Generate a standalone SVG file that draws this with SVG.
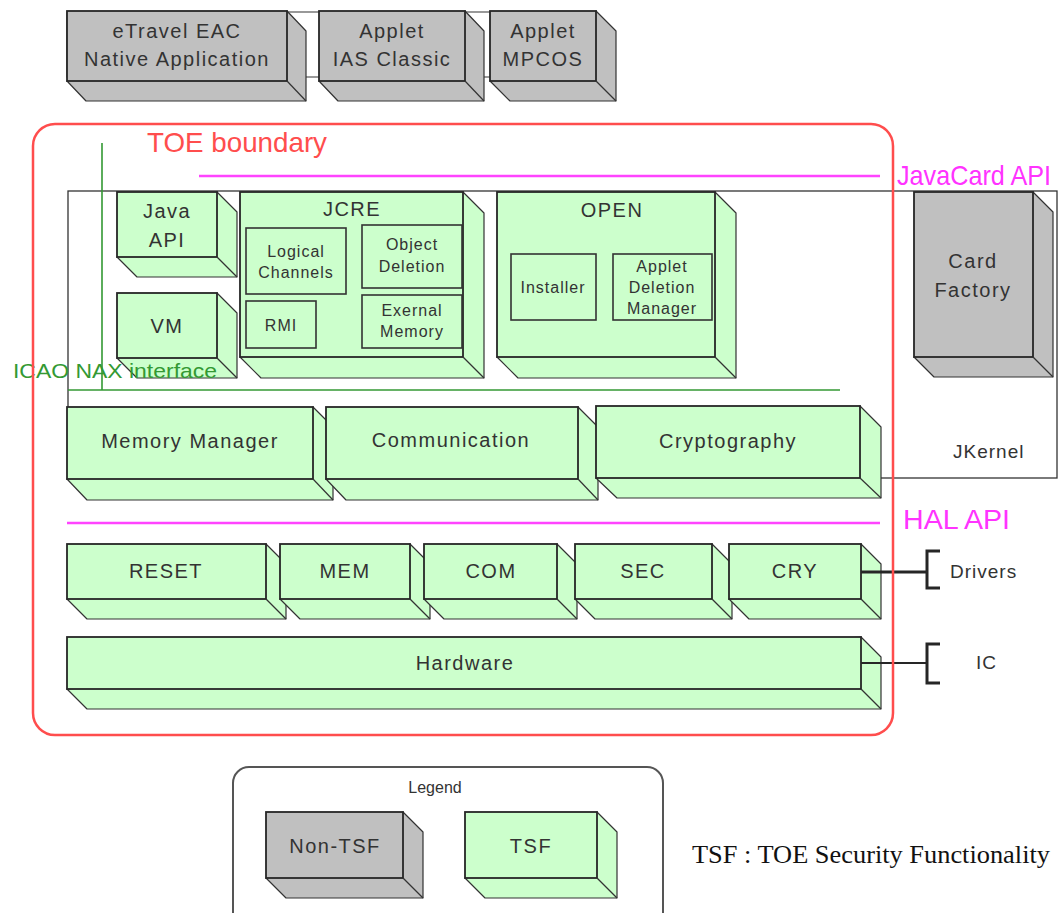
<svg xmlns="http://www.w3.org/2000/svg" width="1061" height="913" viewBox="0 0 1061 913">
  <style>
    .front { stroke: #262626; stroke-width: 1.8; }
    .ext { stroke: #333; stroke-width: 1.2; stroke-linejoin: round; }
    .edge { stroke: #333; stroke-width: 1.2; }
    .tsf { fill: #ccffcc; }
    .non { fill: #c0c0c0; }
    .inner { fill: #ccffcc; stroke: #333; stroke-width: 1.6; }
    .lbl { font-family: "Liberation Sans", Arial, sans-serif; font-size: 20px; letter-spacing: 1.5px; fill: #333; text-anchor: middle; }
    .sm { font-family: "Liberation Sans", Arial, sans-serif; font-size: 16px; letter-spacing: 1px; fill: #333; text-anchor: middle; }
    .api { font-family: "Liberation Sans", Arial, sans-serif; font-size: 28px; fill: #ff33ff; }
    .apiline { stroke: #ff44ff; stroke-width: 2.5; }
  </style>

  <rect width="1061" height="913" fill="#ffffff"/>

  <!-- applications row frame -->
  <rect x="67" y="12" width="529" height="65" fill="none" stroke="#555" stroke-width="1.2"/>

  <!-- application boxes -->
  <g id="etravel">
    <polygon class="non ext" points="287,11 306,31 306,101 86,101 67,81"/>
    <rect class="non front" x="67" y="11" width="220" height="70"/>
    <line class="edge" x1="287" y1="81" x2="306" y2="101"/>
    <text class="lbl" x="177" y="38">eTravel EAC</text>
    <text class="lbl" x="177" y="66">Native Application</text>
  </g>
  <g id="ias-classic">
    <polygon class="non ext" points="465,11 484,31 484,101 338,101 319,81"/>
    <rect class="non front" x="319" y="11" width="146" height="70"/>
    <line class="edge" x1="465" y1="81" x2="484" y2="101"/>
    <text class="lbl" x="392" y="38">Applet</text>
    <text class="lbl" x="392" y="66">IAS Classic</text>
  </g>
  <g id="mpcos">
    <polygon class="non ext" points="596,11 616,31 616,101 510,101 490,81"/>
    <rect class="non front" x="490" y="11" width="106" height="70"/>
    <line class="edge" x1="596" y1="81" x2="616" y2="101"/>
    <text class="lbl" x="543" y="38">Applet</text>
    <text class="lbl" x="543" y="66">MPCOS</text>
  </g>

  <!-- JKernel frame -->
  <g id="jkernel">
    <rect x="68" y="191" width="989" height="287" fill="none" stroke="#333" stroke-width="1.3"/>
    <text x="953" y="458" font-family="Liberation Sans, Arial, sans-serif" font-size="19" letter-spacing="1" fill="#333">JKernel</text>
  </g>

  <!-- interfaces -->
  <g id="interfaces">
    <line class="apiline" x1="199" y1="176" x2="880" y2="176"/>
    <text class="api" x="897" y="185" font-size="26" textLength="154" lengthAdjust="spacingAndGlyphs">JavaCard API</text>
    <line class="apiline" x1="67" y1="523" x2="880" y2="523"/>
    <text class="api" x="903" y="529" textLength="107" lengthAdjust="spacingAndGlyphs">HAL API</text>
    <line x1="102" y1="143" x2="102" y2="390" stroke="#339933" stroke-width="1.6"/>
    <line x1="68" y1="390" x2="840" y2="390" stroke="#339933" stroke-width="1.6"/>
  </g>

  <!-- Java API -->
  <g id="java-api">
    <polygon class="tsf ext" points="217,192 237,212 237,277 137,277 117,257"/>
    <rect class="tsf front" x="117" y="192" width="100" height="65"/>
    <line class="edge" x1="217" y1="257" x2="237" y2="277"/>
    <text class="lbl" x="167" y="218">Java</text>
    <text class="lbl" x="167" y="247">API</text>
  </g>

  <!-- VM -->
  <g id="vm">
    <polygon class="tsf ext" points="217,293 237,313 237,378 137,378 117,358"/>
    <rect class="tsf front" x="117" y="293" width="100" height="65"/>
    <line class="edge" x1="217" y1="358" x2="237" y2="378"/>
    <text class="lbl" x="167" y="333">VM</text>
  </g>

  <!-- ICAO interface label, drawn over VM -->
  <text id="icao-label" x="13" y="378" font-family="Liberation Sans, Arial, sans-serif" font-size="21" fill="#339933" textLength="204" lengthAdjust="spacingAndGlyphs">ICAO NAX interface</text>

  <!-- JCRE -->
  <g id="jcre">
    <polygon class="tsf ext" points="463,192 484,213 484,378 261,378 240,357"/>
    <rect class="tsf front" x="240" y="192" width="223" height="165"/>
    <line class="edge" x1="463" y1="357" x2="484" y2="378"/>
    <text class="lbl" x="352" y="216">JCRE</text>
    <g id="logical-channels">
      <rect class="inner" x="246" y="228" width="100" height="66"/>
      <text class="sm" x="296" y="257">Logical</text>
      <text class="sm" x="296" y="278">Channels</text>
    </g>
    <g id="object-deletion">
      <rect class="inner" x="362" y="225" width="100" height="63" stroke-width="2.4"/>
      <text class="sm" x="412" y="250">Object</text>
      <text class="sm" x="412" y="272">Deletion</text>
    </g>
    <g id="rmi">
      <rect class="inner" x="246" y="301" width="70" height="47" stroke-width="2.2"/>
      <text class="sm" x="281" y="331">RMI</text>
    </g>
    <g id="external-memory">
      <rect class="inner" x="362" y="295" width="100" height="53" stroke-width="2.4"/>
      <text class="sm" x="412" y="316">Exernal</text>
      <text class="sm" x="412" y="337">Memory</text>
    </g>
  </g>

  <!-- OPEN -->
  <g id="open">
    <polygon class="tsf ext" points="715,192 736,213 736,378 518,378 497,357"/>
    <rect class="tsf front" x="497" y="192" width="218" height="165"/>
    <line class="edge" x1="715" y1="357" x2="736" y2="378"/>
    <text class="lbl" x="612" y="217">OPEN</text>
    <g id="installer">
      <rect class="inner" x="511" y="254" width="85" height="66" stroke-width="2"/>
      <text class="sm" x="553" y="293">Installer</text>
    </g>
    <g id="applet-deletion-manager">
      <rect class="inner" x="613" y="254" width="99" height="66" stroke-width="2"/>
      <text class="sm" x="662" y="272">Applet</text>
      <text class="sm" x="662" y="293">Deletion</text>
      <text class="sm" x="662" y="314">Manager</text>
    </g>
  </g>

  <!-- Card Factory -->
  <g id="card-factory">
    <polygon class="non ext" points="1033,192 1053,212 1053,377 934,377 914,357"/>
    <rect class="non front" x="914" y="192" width="119" height="165"/>
    <line class="edge" x1="1033" y1="357" x2="1053" y2="377"/>
    <text class="lbl" x="973" y="268">Card</text>
    <text class="lbl" x="973" y="297">Factory</text>
  </g>

  <!-- kernel services -->
  <g id="memory-manager">
    <polygon class="tsf ext" points="313,407 333,427 333,500 87,500 67,479"/>
    <rect class="tsf front" x="67" y="407" width="246" height="72"/>
    <line class="edge" x1="313" y1="479" x2="333" y2="500"/>
    <text class="lbl" x="190" y="448">Memory Manager</text>
  </g>
  <g id="communication">
    <polygon class="tsf ext" points="578,407 598,427 598,500 346,500 326,479"/>
    <rect class="tsf front" x="326" y="407" width="252" height="72"/>
    <line class="edge" x1="578" y1="479" x2="598" y2="500"/>
    <text class="lbl" x="451" y="447">Communication</text>
  </g>
  <g id="cryptography">
    <polygon class="tsf ext" points="860,406 881,427 881,498 617,498 596,478"/>
    <rect class="tsf front" x="596" y="406" width="264" height="72"/>
    <line class="edge" x1="860" y1="478" x2="881" y2="498"/>
    <text class="lbl" x="728" y="448">Cryptography</text>
  </g>

  <!-- drivers -->
  <g id="reset">
    <polygon class="tsf ext" points="266,544 286,564 286,619 87,619 67,599"/>
    <rect class="tsf front" x="67" y="544" width="199" height="55"/>
    <line class="edge" x1="266" y1="599" x2="286" y2="619"/>
    <text class="lbl" x="166" y="578">RESET</text>
  </g>
  <g id="mem">
    <polygon class="tsf ext" points="410,544 430,564 430,619 300,619 280,599"/>
    <rect class="tsf front" x="280" y="544" width="130" height="55"/>
    <line class="edge" x1="410" y1="599" x2="430" y2="619"/>
    <text class="lbl" x="345" y="578">MEM</text>
  </g>
  <g id="com">
    <polygon class="tsf ext" points="557,544 577,564 577,619 444,619 424,599"/>
    <rect class="tsf front" x="424" y="544" width="133" height="55"/>
    <line class="edge" x1="557" y1="599" x2="577" y2="619"/>
    <text class="lbl" x="491" y="578">COM</text>
  </g>
  <g id="sec">
    <polygon class="tsf ext" points="712,544 732,564 732,619 595,619 575,599"/>
    <rect class="tsf front" x="575" y="544" width="137" height="55"/>
    <line class="edge" x1="712" y1="599" x2="732" y2="619"/>
    <text class="lbl" x="643" y="578">SEC</text>
  </g>
  <g id="cry">
    <polygon class="tsf ext" points="861,544 881,564 881,619 749,619 729,599"/>
    <rect class="tsf front" x="729" y="544" width="132" height="55"/>
    <line class="edge" x1="861" y1="599" x2="881" y2="619"/>
    <text class="lbl" x="795" y="578">CRY</text>
  </g>

  <!-- hardware -->
  <g id="hardware">
    <polygon class="tsf ext" points="861,637 881,657 881,709 87,709 67,689"/>
    <rect class="tsf front" x="67" y="637" width="794" height="52"/>
    <line class="edge" x1="861" y1="689" x2="881" y2="709"/>
    <text class="lbl" x="465" y="670">Hardware</text>
  </g>

  <!-- connectors to external labels -->
  <g id="connectors" fill="none" stroke="#262626">
    <line x1="861" y1="572" x2="927" y2="572" stroke-width="3"/>
    <path d="M940,551 H927 V588 H940" stroke-width="3"/>
    <line x1="861" y1="663" x2="927" y2="663" stroke-width="2"/>
    <path d="M940,644 H927 V683 H940" stroke-width="3"/>
  </g>
  <g id="drivers-label">
    <text x="950" y="578" font-family="Liberation Sans, Arial, sans-serif" font-size="19" letter-spacing="1" fill="#333">Drivers</text>
  </g>
  <g id="ic-label">
    <text x="976" y="669" font-family="Liberation Sans, Arial, sans-serif" font-size="19" letter-spacing="1" fill="#333">IC</text>
  </g>

  <!-- TOE boundary, outline drawn over the frames it crosses -->
  <g id="toe-boundary">
    <rect x="33" y="124" width="860" height="611" rx="22" fill="none" stroke="#ff4d4d" stroke-width="2.5"/>
    <text x="147" y="152" font-family="Liberation Sans, Arial, sans-serif" font-size="28" fill="#ff4d4d" textLength="180" lengthAdjust="spacingAndGlyphs">TOE boundary</text>
  </g>

  <!-- legend -->
  <g id="legend">
    <rect x="233" y="767" width="430" height="170" rx="16" fill="none" stroke="#555" stroke-width="2"/>
    <text x="435" y="793" font-family="Liberation Sans, Arial, sans-serif" font-size="16" fill="#333" text-anchor="middle">Legend</text>
    <g id="legend-non-tsf">
      <polygon class="non ext" points="403,812 423,832 423,898 286,898 266,878"/>
      <rect class="non front" x="266" y="812" width="137" height="66"/>
      <line class="edge" x1="403" y1="878" x2="423" y2="898"/>
      <text class="lbl" x="335" y="853">Non-TSF</text>
    </g>
    <g id="legend-tsf">
      <polygon class="tsf ext" points="597,812 617,832 617,898 485,898 465,878"/>
      <rect class="tsf front" x="465" y="812" width="132" height="66"/>
      <line class="edge" x1="597" y1="878" x2="617" y2="898"/>
      <text class="lbl" x="531" y="853">TSF</text>
    </g>
  </g>

  <text id="tsf-note" x="692" y="863" font-family="Liberation Serif, Times New Roman, serif" font-size="25" fill="#111" textLength="358" lengthAdjust="spacingAndGlyphs">TSF : TOE Security Functionality</text>
</svg>
